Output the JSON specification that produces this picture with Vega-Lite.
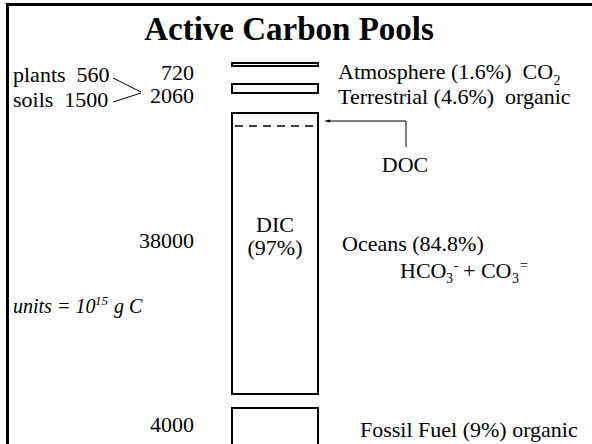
{
  "$schema": "https://vega.github.io/schema/vega-lite/v6.json",
  "width": 592,
  "height": 444,
  "padding": 0,
  "autosize": "none",
  "background": "white",
  "config": {"view": {"stroke": null}, "text": {"font": "Liberation Serif", "color": "black"}},
  "datasets": {
    "frame": [
      {"x": 6, "y": 4.5, "x2": 592, "y2": 4.5},
      {"x": 7.5, "y": 3, "x2": 7.5, "y2": 444}
    ],
    "pools": [
      {"pool": "Atmosphere", "x": 232, "x2": 318, "y": 63, "y2": 66},
      {"pool": "Terrestrial", "x": 232, "x2": 318, "y": 84, "y2": 93},
      {"pool": "Oceans", "x": 232, "x2": 318, "y": 113, "y2": 394},
      {"pool": "Fossil Fuel", "x": 232, "x2": 318, "y": 408, "y2": 460}
    ],
    "doc": [{"x": 235, "x2": 316, "y": 126, "y2": 126}],
    "links": [
      {"x": 113, "y": 78, "x2": 141, "y2": 92},
      {"x": 113, "y": 102, "x2": 141, "y2": 93},
      {"x": 406, "y": 147, "x2": 406, "y2": 121},
      {"x": 406, "y": 121, "x2": 327, "y2": 121}
    ],
    "arrowhead": [{"x": 327, "y": 121}],
    "title": [{"x": 289, "y": 40, "t": "Active Carbon Pools"}],
    "leftText": [
      {"x": 13, "y": 82, "t": "plants \u00a0560"},
      {"x": 13, "y": 107, "t": "soils \u00a01500"},
      {"x": 338, "y": 79, "t": "Atmosphere (1.6%) \u00a0CO"},
      {"x": 338, "y": 104, "t": "Terrestrial (4.6%) \u00a0organic"},
      {"x": 342, "y": 251, "t": "Oceans (84.8%)"},
      {"x": 400, "y": 278, "t": "HCO"},
      {"x": 463, "y": 278, "t": "+ CO"},
      {"x": 360, "y": 437, "t": "Fossil Fuel (9%) organic"}
    ],
    "numbers": [
      {"x": 194, "y": 80, "t": "720"},
      {"x": 194, "y": 103, "t": "2060"},
      {"x": 194, "y": 248, "t": "38000"},
      {"x": 194, "y": 432, "t": "4000"}
    ],
    "centerText": [
      {"x": 405, "y": 172, "t": "DOC"},
      {"x": 275, "y": 232, "t": "DIC"},
      {"x": 275, "y": 255, "t": "(97%)"}
    ],
    "small": [
      {"x": 553.5, "y": 85, "t": "2"},
      {"x": 446, "y": 283, "t": "3"},
      {"x": 454, "y": 270, "t": "-"},
      {"x": 512, "y": 283, "t": "3"},
      {"x": 520, "y": 270, "t": "="}
    ],
    "italic": [
      {"x": 13, "y": 313, "t": "units = 10"},
      {"x": 114, "y": 313, "t": "g C"}
    ],
    "italicSup": [{"x": 95, "y": 305, "t": "15"}]
  },
  "encoding": {
    "x": {"field": "x", "type": "quantitative", "scale": {"domain": [0, 592], "nice": false, "zero": false}, "axis": null},
    "y": {"field": "y", "type": "quantitative", "scale": {"domain": [0, 444], "nice": false, "zero": false, "reverse": true}, "axis": null}
  },
  "layer": [
    {"data": {"name": "frame"}, "mark": {"type": "rule", "strokeWidth": 3, "color": "black"}, "encoding": {"x2": {"field": "x2"}, "y2": {"field": "y2"}}},
    {"data": {"name": "pools"}, "mark": {"type": "rect", "fill": "white", "stroke": "black", "strokeWidth": 2}, "encoding": {"x2": {"field": "x2"}, "y2": {"field": "y2"}}},
    {"data": {"name": "doc"}, "mark": {"type": "rule", "strokeWidth": 1.5, "strokeDash": [8, 6], "color": "black"}, "encoding": {"x2": {"field": "x2"}, "y2": {"field": "y2"}}},
    {"data": {"name": "links"}, "mark": {"type": "rule", "strokeWidth": 1, "color": "black"}, "encoding": {"x2": {"field": "x2"}, "y2": {"field": "y2"}}},
    {"data": {"name": "arrowhead"}, "mark": {"type": "point", "shape": "M -1 0 L 1 -0.45 L 1 0.45 Z", "size": 40, "filled": true, "color": "black", "opacity": 1}},
    {"data": {"name": "title"}, "mark": {"type": "text", "fontSize": 33, "fontWeight": "bold", "align": "center", "baseline": "alphabetic"}, "encoding": {"text": {"field": "t"}}},
    {"data": {"name": "leftText"}, "mark": {"type": "text", "fontSize": 22, "align": "left", "baseline": "alphabetic"}, "encoding": {"text": {"field": "t"}}},
    {"data": {"name": "numbers"}, "mark": {"type": "text", "fontSize": 22, "align": "right", "baseline": "alphabetic"}, "encoding": {"text": {"field": "t"}}},
    {"data": {"name": "centerText"}, "mark": {"type": "text", "fontSize": 22, "align": "center", "baseline": "alphabetic"}, "encoding": {"text": {"field": "t"}}},
    {"data": {"name": "small"}, "mark": {"type": "text", "fontSize": 14, "align": "left", "baseline": "alphabetic"}, "encoding": {"text": {"field": "t"}}},
    {"data": {"name": "italic"}, "mark": {"type": "text", "fontSize": 20, "fontStyle": "italic", "align": "left", "baseline": "alphabetic"}, "encoding": {"text": {"field": "t"}}},
    {"data": {"name": "italicSup"}, "mark": {"type": "text", "fontSize": 13, "fontStyle": "italic", "align": "left", "baseline": "alphabetic"}, "encoding": {"text": {"field": "t"}}}
  ]
}
